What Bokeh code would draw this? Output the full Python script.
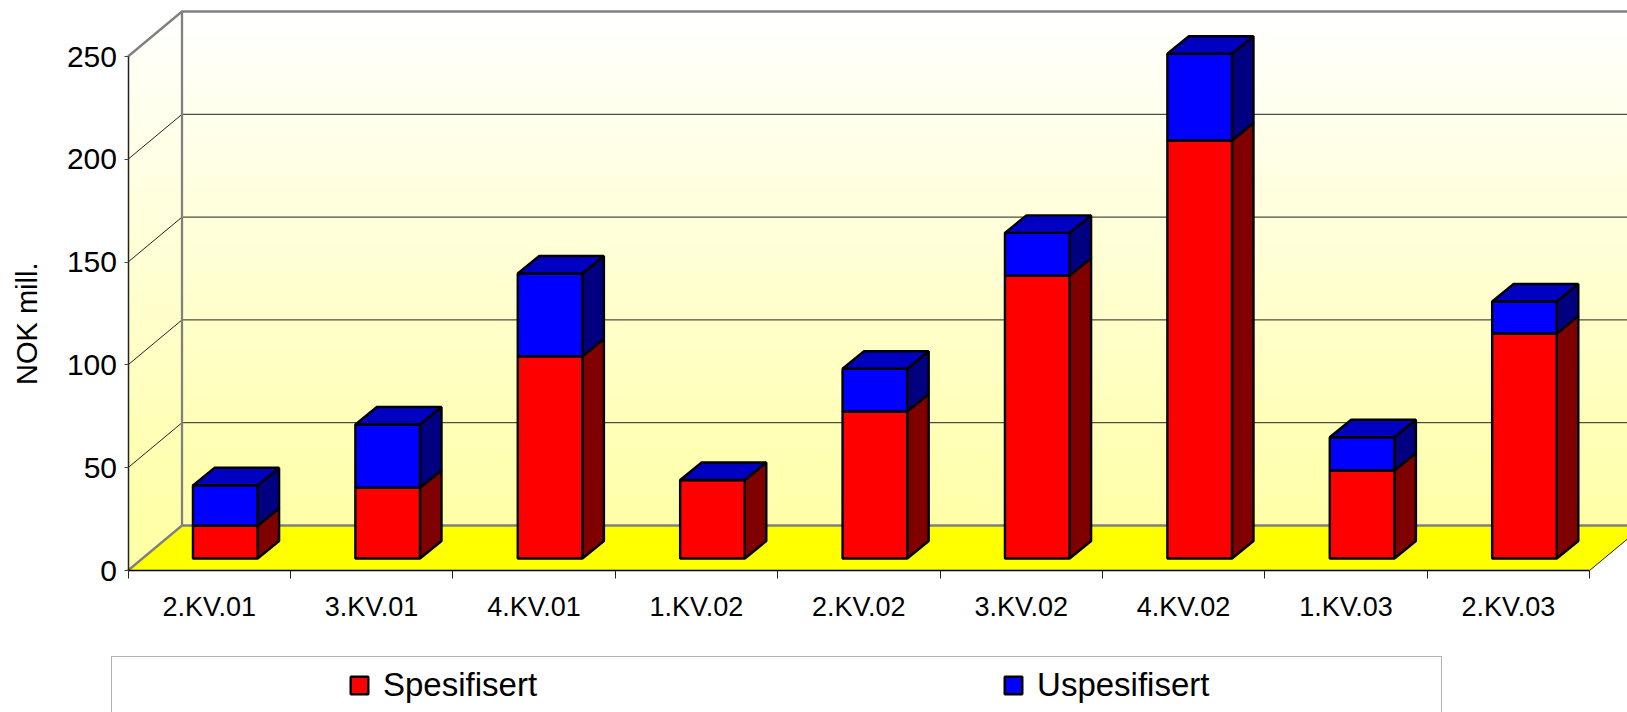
from bokeh.plotting import figure
from bokeh.embed import file_html
from bokeh.resources import INLINE
from bokeh.models import (Range1d, LinearAxis, FixedTicker, Legend, LegendItem, BoxAnnotation, Label)

quarters = ["2.KV.01", "3.KV.01", "4.KV.01", "1.KV.02", "2.KV.02", "3.KV.02", "4.KV.02", "1.KV.03", "2.KV.03"]
spesifisert = [15.9, 34.4, 98.3, 38.2, 71.5, 137.6, 203.3, 42.8, 109.4]
uspesifisert = [19.7, 30.8, 40.3, 0.0, 20.8, 20.8, 42.2, 16.2, 15.6]
y_ticks = [0, 50, 100, 150, 200, 250]

PX_X = 162.4
PX_Y = 2.056
X_START = -127.5 / PX_X
X_END = (1627 - 127.5) / PX_X
Y_START = -(712 - 570) / PX_Y
Y_END = 570 / PX_Y
WALL_DX = 54 / PX_X
WALL_DY = 45 / PX_Y
BAR_DX = 21.5 / PX_X
BAR_DY = 17.5 / PX_Y
BAR_L = 0.400
BAR_W = 0.398
BAR_BASE = 12 / PX_Y
WALL_TOP = 250 + WALL_DY

p = figure(width=1627, height=712, output_backend="svg", toolbar_location=None,
           x_range=Range1d(X_START, X_END), y_range=Range1d(Y_START, Y_END),
           x_axis_type=None, y_axis_type=None,
           min_border_left=0, min_border_right=0, min_border_top=0, min_border_bottom=0)
p.outline_line_color = None
p.grid.visible = False
p.background_fill_color = "white"

# gradient wall
N = 140
lefts, rights, bottoms, tops, cols = [], [], [], [], []
for i in range(N):
    t0 = i / N
    y0 = WALL_DY + (WALL_TOP - WALL_DY) * t0
    y1 = WALL_DY + (WALL_TOP - WALL_DY) * (i + 1.6) / N
    b = int(168 + (255 - 168) * (t0 + 0.5 / N))
    lefts.append(0); rights.append(X_END); bottoms.append(y0); tops.append(min(y1, WALL_TOP))
    cols.append("#ffff%02x" % b)
p.quad(left=lefts, right=rights, bottom=bottoms, top=tops, fill_color=cols, line_color=None)
p.quad(left=[0], right=[WALL_DX], bottom=[0], top=[WALL_DY + 0.1], fill_color="#ffffa8", line_color=None)
# white corner above the left wall
p.patch([0, WALL_DX, 0], [250, WALL_TOP, WALL_TOP], fill_color="white", line_color=None)

# floor
p.patch([0, 9, 9 + WALL_DX, WALL_DX], [0, 0, WALL_DY, WALL_DY], fill_color="#ffff00", line_color=None)
p.line([9, 9 + WALL_DX], [0, WALL_DY], line_color="#222222", line_width=1)

# grid lines
for v in y_ticks[1:-1]:
    p.line([0, WALL_DX, X_END], [v, v + WALL_DY, v + WALL_DY], line_color="#222222", line_width=1)
# wall frame
p.line([0, WALL_DX, WALL_DX], [0, WALL_DY, WALL_TOP], line_color="#808080", line_width=2.3)
p.line([0, WALL_DX, X_END], [250, WALL_TOP, WALL_TOP], line_color="#808080", line_width=2.3)
p.line([WALL_DX, X_END], [WALL_DY, WALL_DY], line_color="#808080", line_width=2.3)

# stacked bars
xc = [i + BAR_L + BAR_W / 2 for i in range(len(quarters))]
xr = [i + BAR_L + BAR_W for i in range(len(quarters))]
base = [BAR_BASE] * len(quarters)
mid = [BAR_BASE + s for s in spesifisert]
top = [m + u for m, u in zip(mid, uspesifisert)]

def side(y0, y1):
    xs = [[x, x + BAR_DX, x + BAR_DX, x] for x in xr]
    ys = [[a, a + BAR_DY, b + BAR_DY, b] for a, b in zip(y0, y1)]
    return xs, ys

LW = 2.4
xs, ys = side(base, mid)
p.patches(xs, ys, fill_color="#800000", line_color="black", line_width=LW)
r_red = p.vbar(x=xc, width=BAR_W, bottom=base, top=mid, fill_color="#ff0000", line_color="black", line_width=LW)
xs, ys = side(mid, top)
p.patches(xs, ys, fill_color="#000080", line_color="black", line_width=LW)
r_blue = p.vbar(x=xc, width=BAR_W, bottom=mid, top=top, fill_color="#0000ff", line_color="black", line_width=LW)
tx = [[x - BAR_W, x, x + BAR_DX, x - BAR_W + BAR_DX] for x in xr]
ty = [[t, t, t + BAR_DY, t + BAR_DY] for t in top]
p.patches(tx, ty, fill_color="#0000c0", line_color="black", line_width=LW)

# axes
yax = LinearAxis(ticker=FixedTicker(ticks=y_ticks), bounds=(0, 250), fixed_location=0,
                 major_tick_out=4, major_tick_in=0, minor_tick_out=0, minor_tick_in=0,
                 major_label_standoff=7, major_label_text_font="Liberation Sans",
                 major_label_text_font_size="30px", major_label_text_color="black",
                 axis_line_color="#222222", axis_line_width=1.5, major_tick_line_color="#444444")
p.add_layout(yax, "left")
xax = LinearAxis(ticker=FixedTicker(ticks=[i + 0.5 for i in range(len(quarters))],
                                    minor_ticks=list(range(len(quarters) + 1))),
                 bounds=(0, 9), fixed_location=0,
                 major_label_overrides={i + 0.5: q for i, q in enumerate(quarters)},
                 major_tick_out=0, major_tick_in=0, minor_tick_out=8, minor_tick_in=0,
                 major_label_standoff=13, major_label_text_font="Liberation Sans",
                 major_label_text_font_size="27px", major_label_text_color="black",
                 axis_line_color="black", axis_line_width=1.3,
                 major_tick_line_color=None, minor_tick_line_color="#222222")
p.add_layout(xax, "below")

p.add_layout(Label(x=-0.62, y=120, text="NOK mill.", angle=1.5708,
                   text_align="center", text_baseline="middle", text_font="Liberation Sans",
                   text_font_size="29px", text_color="black"))

# legend
p.add_layout(BoxAnnotation(left=111, right=1441, top=656, bottom=730,
                           left_units="canvas", right_units="canvas", top_units="canvas", bottom_units="canvas",
                           fill_alpha=0, line_color="black", line_width=1, level="annotation"))
legend = Legend(items=[LegendItem(label="Spesifisert", renderers=[r_red]),
                       LegendItem(label="Uspesifisert", renderers=[r_blue])],
                orientation="horizontal", location=(348, 8), padding=0, margin=0, spacing=465,
                glyph_width=22, glyph_height=22, label_standoff=13, label_height=22,
                label_text_font="Liberation Sans", label_text_font_size="33px", label_text_color="black",
                background_fill_alpha=0, border_line_color=None)
p.add_layout(legend, "center")

open("out.html", "w").write(file_html(p, INLINE))
